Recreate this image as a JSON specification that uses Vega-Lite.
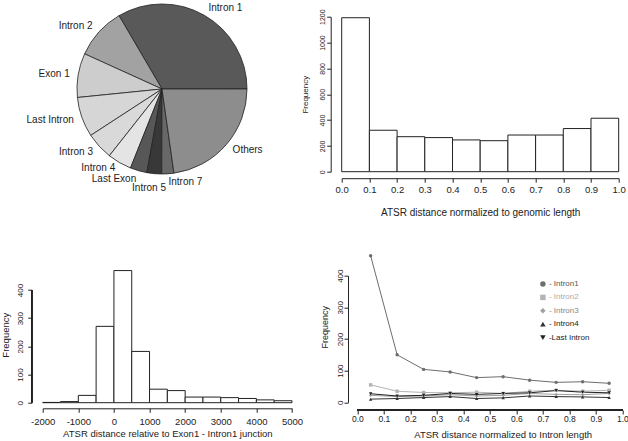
{
  "$schema": "https://vega.github.io/schema/vega-lite/v6.json",
  "autosize": {"type": "none"},
  "padding": {"left": 42.7, "top": 16.7, "right": 585.3, "bottom": 424.3},
  "background": "white",
  "config": {
    "font": "Liberation Sans",
    "view": {"stroke": null},
    "axis": {"grid": false, "domainColor": "#222", "tickColor": "#222", "labelColor": "#222", "titleColor": "#222", "titleFontWeight": "normal", "domainWidth": 1, "tickWidth": 1, "tickSize": 4, "labelFont": "Liberation Sans", "titleFont": "Liberation Sans"},
    "legend": {"labelFont": "Liberation Sans"}
  },
  "columns": 2,
  "bounds": "flush",
  "spacing": {"row": 104, "column": 49},
  "resolve": {"scale": {"color": "independent", "shape": "independent"}, "legend": {"color": "independent", "shape": "independent"}},
  "concat": [
    {
      "width": 238.6,
      "height": 144.6,
      "data": {"values": [
        {"k": 1, "label": "Intron 1", "value": 33.5},
        {"k": 2, "label": "Intron 2", "value": 9.8},
        {"k": 3, "label": "Exon 1", "value": 8.4},
        {"k": 4, "label": "Last Intron", "value": 7.6},
        {"k": 5, "label": "Intron 3", "value": 5.2},
        {"k": 6, "label": "Intron 4", "value": 4.6},
        {"k": 7, "label": "Last Exon", "value": 3.2},
        {"k": 8, "label": "Intron 5", "value": 2.8},
        {"k": 9, "label": "Intron 7", "value": 2.3},
        {"k": 10, "label": "Others", "value": 22.8}
      ]},
      "encoding": {
        "theta": {"field": "value", "type": "quantitative", "stack": true, "scale": {"range": [1.5708, -4.7124]}},
        "order": {"field": "k", "type": "quantitative"}
      },
      "layer": [
        {
          "mark": {"type": "arc", "outerRadius": 85, "stroke": "#222", "strokeWidth": 0.8},
          "encoding": {
            "color": {"field": "label", "type": "nominal", "legend": null,
              "scale": {"domain": ["Intron 1", "Intron 2", "Exon 1", "Last Intron", "Intron 3", "Intron 4", "Last Exon", "Intron 5", "Intron 7", "Others"],
                        "range": ["#595959", "#a2a2a2", "#cdcdcd", "#d6d6d6", "#d9d9d9", "#e4e4e4", "#575757", "#383838", "#686868", "#8d8d8d"]}}
          }
        },
        {
          "mark": {"type": "text", "radius": 93.5, "align": "right", "baseline": "middle", "fontSize": 10, "color": "#222"},
          "encoding": {
            "text": {"condition": {"test": "datum.label == 'Intron 2' || datum.label == 'Exon 1' || datum.label == 'Last Intron' || datum.label == 'Intron 3' || datum.label == 'Last Exon'", "field": "label", "type": "nominal"}, "value": ""}
          }
        },
        {
          "mark": {"type": "text", "radius": 93.5, "align": "right", "baseline": "middle", "fontSize": 10, "color": "#222", "dy": -2},
          "encoding": {
            "text": {"condition": {"test": "datum.label == 'Intron 4'", "field": "label", "type": "nominal"}, "value": ""}
          }
        },
        {
          "mark": {"type": "text", "radius": 93.5, "align": "left", "baseline": "middle", "fontSize": 10, "color": "#222"},
          "encoding": {
            "text": {"condition": {"test": "datum.label == 'Intron 1' || datum.label == 'Intron 7' || datum.label == 'Others'", "field": "label", "type": "nominal"}, "value": ""}
          }
        },
        {
          "mark": {"type": "text", "radius": 93.5, "align": "center", "baseline": "middle", "fontSize": 10, "color": "#222", "dx": -4.5, "dy": 6},
          "encoding": {
            "text": {"condition": {"test": "datum.label == 'Intron 5'", "field": "label", "type": "nominal"}, "value": ""}
          }
        }
      ]
    },
    {
      "width": 277,
      "height": 155,
      "data": {"values": [
        {"start": 0.0, "end": 0.1, "count": 1192},
        {"start": 0.1, "end": 0.2, "count": 321},
        {"start": 0.2, "end": 0.3, "count": 271},
        {"start": 0.3, "end": 0.4, "count": 264},
        {"start": 0.4, "end": 0.5, "count": 246},
        {"start": 0.5, "end": 0.6, "count": 240},
        {"start": 0.6, "end": 0.7, "count": 284},
        {"start": 0.7, "end": 0.8, "count": 284},
        {"start": 0.8, "end": 0.9, "count": 334},
        {"start": 0.9, "end": 1.0, "count": 414}
      ]},
      "mark": {"type": "bar", "fill": "white", "stroke": "#222", "strokeWidth": 1},
      "encoding": {
        "x": {"field": "start", "type": "quantitative", "scale": {"domain": [0, 1], "nice": false, "zero": false},
              "axis": {"values": [0, 0.1, 0.2, 0.3, 0.4, 0.5, 0.6, 0.7, 0.8, 0.9, 1.0], "format": ".1f", "offset": 6.5, "labelFontSize": 9.5, "labelPadding": 2, "labelFlush": false, "labelOverlap": false,
                       "title": "ATSR distance normalized to genomic length", "titleFontSize": 10, "titlePadding": 14}},
        "x2": {"field": "end"},
        "y": {"field": "count", "type": "quantitative", "scale": {"domain": [0, 1200], "nice": false},
              "axis": {"values": [0, 200, 400, 600, 800, 1000, 1200], "format": "d", "offset": 11, "labelAngle": 270, "labelAlign": "center", "labelBaseline": "bottom", "labelFontSize": 7, "labelPadding": 1, "labelFlush": false, "labelOverlap": false,
                       "title": "Frequency", "titleFontSize": 8, "titlePadding": 9}},
        "y2": {"datum": 0}
      }
    },
    {
      "width": 249.3,
      "height": 127,
      "data": {"values": [
        {"start": -2000, "end": -1500, "count": 1},
        {"start": -1500, "end": -1000, "count": 4},
        {"start": -1000, "end": -500, "count": 26},
        {"start": -500, "end": 0, "count": 271},
        {"start": 0, "end": 500, "count": 469},
        {"start": 500, "end": 1000, "count": 182},
        {"start": 1000, "end": 1500, "count": 48},
        {"start": 1500, "end": 2000, "count": 43},
        {"start": 2000, "end": 2500, "count": 20},
        {"start": 2500, "end": 3000, "count": 20},
        {"start": 3000, "end": 3500, "count": 18},
        {"start": 3500, "end": 4000, "count": 15},
        {"start": 4000, "end": 4500, "count": 10},
        {"start": 4500, "end": 5000, "count": 7}
      ]},
      "layer": [
        {
          "mark": {"type": "bar", "fill": "white", "stroke": "#222", "strokeWidth": 1},
          "encoding": {
            "x": {"field": "start", "type": "quantitative", "scale": {"domain": [-2000, 5000], "nice": false, "zero": false},
                  "axis": {"values": [-2000, -1000, 0, 1000, 2000, 3000, 4000, 5000], "format": "d", "labelExpr": "replace(datum.label, '\u2212', '-')", "offset": 5.6, "labelFontSize": 9.5, "labelPadding": 4, "labelFlush": false, "labelOverlap": false,
                           "title": "ATSR distance relative to Exon1 - Intron1 junction", "titleFontSize": 9.5, "titlePadding": 3}},
            "x2": {"field": "end"},
            "y": {"field": "count", "type": "quantitative", "scale": {"domain": [0, 450.8], "nice": false},
                  "axis": {"values": [0, 100, 200, 300, 400], "domain": false, "offset": 11, "labelAngle": 270, "labelAlign": "center", "labelBaseline": "bottom", "labelFontSize": 8, "labelPadding": 3.5, "labelFlush": false, "labelOverlap": false,
                           "title": "Frequency", "titleFontSize": 9.5, "titlePadding": 6, "titleY": 59}},
            "y2": {"datum": 0}
          }
        },
        {
          "mark": {"type": "rule", "xOffset": -11, "color": "#222", "strokeWidth": 1},
          "encoding": {
            "x": {"datum": -2000, "type": "quantitative",
                  "axis": {"values": [-2000, -1000, 0, 1000, 2000, 3000, 4000, 5000], "format": "d", "labelExpr": "replace(datum.label, '\u2212', '-')", "offset": 5.6, "labelFontSize": 9.5, "labelPadding": 4, "labelFlush": false, "labelOverlap": false,
                           "title": "ATSR distance relative to Exon1 - Intron1 junction", "titleFontSize": 9.5, "titlePadding": 3}},
            "y": {"datum": 0, "type": "quantitative",
                  "axis": {"values": [0, 100, 200, 300, 400], "domain": false, "offset": 11, "labelAngle": 270, "labelAlign": "center", "labelBaseline": "bottom", "labelFontSize": 8, "labelPadding": 3.5, "labelFlush": false, "labelOverlap": false,
                           "title": "Frequency", "titleFontSize": 9.5, "titlePadding": 6, "titleY": 59}},
            "y2": {"datum": 400}
          }
        }
      ]
    },
    {
      "width": 280.7,
      "height": 126.6,
      "data": {"values": [
        {"series": "Intron1", "x": 0.05, "freq": 463}, {"series": "Intron1", "x": 0.15, "freq": 150}, {"series": "Intron1", "x": 0.25, "freq": 104}, {"series": "Intron1", "x": 0.35, "freq": 96}, {"series": "Intron1", "x": 0.45, "freq": 78},
        {"series": "Intron1", "x": 0.55, "freq": 81}, {"series": "Intron1", "x": 0.65, "freq": 70}, {"series": "Intron1", "x": 0.75, "freq": 63}, {"series": "Intron1", "x": 0.85, "freq": 65}, {"series": "Intron1", "x": 0.95, "freq": 60},
        {"series": "Intron2", "x": 0.05, "freq": 55}, {"series": "Intron2", "x": 0.15, "freq": 35}, {"series": "Intron2", "x": 0.25, "freq": 31}, {"series": "Intron2", "x": 0.35, "freq": 30}, {"series": "Intron2", "x": 0.45, "freq": 32},
        {"series": "Intron2", "x": 0.55, "freq": 28}, {"series": "Intron2", "x": 0.65, "freq": 35}, {"series": "Intron2", "x": 0.75, "freq": 38}, {"series": "Intron2", "x": 0.85, "freq": 35}, {"series": "Intron2", "x": 0.95, "freq": 38},
        {"series": "Intron3", "x": 0.05, "freq": 22}, {"series": "Intron3", "x": 0.15, "freq": 18}, {"series": "Intron3", "x": 0.25, "freq": 20}, {"series": "Intron3", "x": 0.35, "freq": 24}, {"series": "Intron3", "x": 0.45, "freq": 20},
        {"series": "Intron3", "x": 0.55, "freq": 22}, {"series": "Intron3", "x": 0.65, "freq": 28}, {"series": "Intron3", "x": 0.75, "freq": 25}, {"series": "Intron3", "x": 0.85, "freq": 24}, {"series": "Intron3", "x": 0.95, "freq": 28},
        {"series": "Intron4", "x": 0.05, "freq": 10}, {"series": "Intron4", "x": 0.15, "freq": 12}, {"series": "Intron4", "x": 0.25, "freq": 15}, {"series": "Intron4", "x": 0.35, "freq": 18}, {"series": "Intron4", "x": 0.45, "freq": 12},
        {"series": "Intron4", "x": 0.55, "freq": 14}, {"series": "Intron4", "x": 0.65, "freq": 20}, {"series": "Intron4", "x": 0.75, "freq": 18}, {"series": "Intron4", "x": 0.85, "freq": 17}, {"series": "Intron4", "x": 0.95, "freq": 15},
        {"series": "Last Intron", "x": 0.05, "freq": 27}, {"series": "Last Intron", "x": 0.15, "freq": 20}, {"series": "Last Intron", "x": 0.25, "freq": 22}, {"series": "Last Intron", "x": 0.35, "freq": 28}, {"series": "Last Intron", "x": 0.45, "freq": 25},
        {"series": "Last Intron", "x": 0.55, "freq": 28}, {"series": "Last Intron", "x": 0.65, "freq": 30}, {"series": "Last Intron", "x": 0.75, "freq": 37}, {"series": "Last Intron", "x": 0.85, "freq": 32}, {"series": "Last Intron", "x": 0.95, "freq": 30}
      ]},
      "layer": [
        {
          "mark": {"type": "line", "strokeWidth": 1},
          "encoding": {
            "x": {"field": "x", "type": "quantitative", "scale": {"domain": [-0.0592, 1], "nice": false, "zero": false},
                  "axis": {"values": [0, 0.1, 0.2, 0.3, 0.4, 0.5, 0.6, 0.7, 0.8, 0.9, 1.0], "format": ".1f", "domain": false, "offset": 7.7, "labelFontSize": 8.5, "labelPadding": 0.5, "labelFlush": false, "labelOverlap": false,
                           "title": "ATSR distance normalized to Intron length", "titleFontSize": 9.5, "titlePadding": 6.5, "titleX": 161}},
            "y": {"field": "freq", "type": "quantitative", "scale": {"domain": [0, 400], "nice": false},
                  "axis": {"values": [0, 100, 200, 300, 400], "offset": -6.3, "labelAngle": 270, "labelAlign": "center", "labelBaseline": "bottom", "labelFontSize": 8, "labelPadding": 0, "labelFlush": false, "labelOverlap": false,
                           "title": "Frequency", "titleFontSize": 9, "titlePadding": 6.5, "titleY": 51}},
            "color": {"field": "series", "type": "nominal",
                      "scale": {"domain": ["Intron1", "Intron2", "Intron3", "Intron4", "Last Intron"], "range": ["#6e6e6e", "#b4b4b4", "#a0a0a0", "#333333", "#222222"]},
                      "legend": {"orient": "none", "legendX": 197.2, "legendY": 4.3, "title": null, "padding": 0, "symbolSize": 30, "symbolStrokeWidth": 0, "labelFontSize": 8, "rowPadding": 5.4, "labelOffset": 2,
                                 "labelExpr": "datum.value === 'Last Intron' ? '-Last Intron' : '- ' + datum.value",
                                 "encode": {"labels": {"update": {"fill": {"signal": "datum.value === 'Intron2' ? '#aaaaaa' : datum.value === 'Intron3' ? '#888888' : datum.value === 'Intron1' ? '#555555' : '#222222'"}}}}}}
          }
        },
        {
          "mark": {"type": "point", "filled": true, "size": 12, "opacity": 1},
          "encoding": {
            "x": {"field": "x", "type": "quantitative",
                  "axis": {"values": [0, 0.1, 0.2, 0.3, 0.4, 0.5, 0.6, 0.7, 0.8, 0.9, 1.0], "format": ".1f", "domain": false, "offset": 7.7, "labelFontSize": 8.5, "labelPadding": 0.5, "labelFlush": false, "labelOverlap": false,
                           "title": "ATSR distance normalized to Intron length", "titleFontSize": 9.5, "titlePadding": 6.5, "titleX": 161}},
            "y": {"field": "freq", "type": "quantitative",
                  "axis": {"values": [0, 100, 200, 300, 400], "offset": -6.3, "labelAngle": 270, "labelAlign": "center", "labelBaseline": "bottom", "labelFontSize": 8, "labelPadding": 0, "labelFlush": false, "labelOverlap": false,
                           "title": "Frequency", "titleFontSize": 9, "titlePadding": 6.5, "titleY": 51}},
            "color": {"field": "series", "type": "nominal",
                      "legend": {"orient": "none", "legendX": 197.2, "legendY": 4.3, "title": null, "padding": 0, "symbolSize": 30, "symbolStrokeWidth": 0, "labelFontSize": 8, "rowPadding": 5.4, "labelOffset": 2,
                                 "labelExpr": "datum.value === 'Last Intron' ? '-Last Intron' : '- ' + datum.value",
                                 "encode": {"labels": {"update": {"fill": {"signal": "datum.value === 'Intron2' ? '#aaaaaa' : datum.value === 'Intron3' ? '#888888' : datum.value === 'Intron1' ? '#555555' : '#222222'"}}}}}},
            "shape": {"field": "series", "type": "nominal",
                      "scale": {"domain": ["Intron1", "Intron2", "Intron3", "Intron4", "Last Intron"], "range": ["circle", "square", "diamond", "triangle-up", "triangle-down"]},
                      "legend": {"orient": "none", "legendX": 197.2, "legendY": 4.3, "title": null, "padding": 0, "symbolSize": 30, "symbolStrokeWidth": 0, "labelFontSize": 8, "rowPadding": 5.4, "labelOffset": 2,
                                 "labelExpr": "datum.value === 'Last Intron' ? '-Last Intron' : '- ' + datum.value",
                                 "encode": {"labels": {"update": {"fill": {"signal": "datum.value === 'Intron2' ? '#aaaaaa' : datum.value === 'Intron3' ? '#888888' : datum.value === 'Intron1' ? '#555555' : '#222222'"}}}}}}
          }
        },
        {
          "mark": {"type": "rule", "yOffset": 7.7, "color": "#222", "strokeWidth": 1},
          "encoding": {
            "x": {"datum": 0, "type": "quantitative",
                  "axis": {"values": [0, 0.1, 0.2, 0.3, 0.4, 0.5, 0.6, 0.7, 0.8, 0.9, 1.0], "format": ".1f", "domain": false, "offset": 7.7, "labelFontSize": 8.5, "labelPadding": 0.5, "labelFlush": false, "labelOverlap": false,
                           "title": "ATSR distance normalized to Intron length", "titleFontSize": 9.5, "titlePadding": 6.5, "titleX": 161}},
            "x2": {"datum": 1},
            "y": {"datum": 0, "type": "quantitative",
                  "axis": {"values": [0, 100, 200, 300, 400], "offset": -6.3, "labelAngle": 270, "labelAlign": "center", "labelBaseline": "bottom", "labelFontSize": 8, "labelPadding": 0, "labelFlush": false, "labelOverlap": false,
                           "title": "Frequency", "titleFontSize": 9, "titlePadding": 6.5, "titleY": 51}}
          }
        }
      ]
    }
  ]
}
